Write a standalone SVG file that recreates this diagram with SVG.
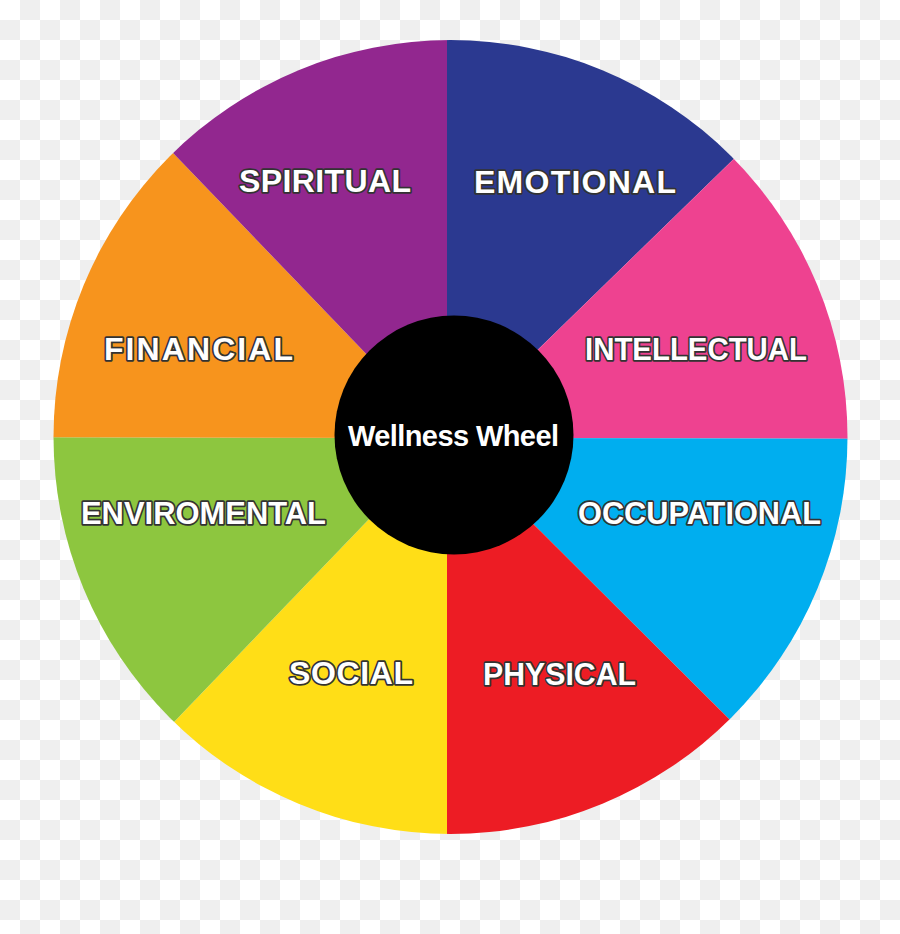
<svg xmlns="http://www.w3.org/2000/svg" width="900" height="934" viewBox="0 0 900 934">
  <defs>
    <pattern id="checker" x="0" y="0" width="40" height="40" patternUnits="userSpaceOnUse">
      <rect x="0" y="0" width="40" height="40" fill="#ffffff"/>
      <rect x="20" y="0" width="20" height="20" fill="#efefef"/>
      <rect x="0" y="20" width="20" height="20" fill="#efefef"/>
    </pattern>
    <clipPath id="wheelClip">
      <circle cx="450.5" cy="437" r="397"/>
    </clipPath>
    <style>
      .lbl { font-family: "Liberation Sans", Arial, sans-serif; font-weight: bold; font-size: 32px; fill: #ffffff; stroke: #333333; stroke-width: 3.5; stroke-linejoin: round; paint-order: stroke fill; text-anchor: middle; }
      .hub-text { font-family: "Liberation Sans", Arial, sans-serif; font-weight: bold; font-size: 29px; fill: #ffffff; text-anchor: middle; }
    </style>
  </defs>

  <rect id="background" x="0" y="0" width="900" height="934" fill="url(#checker)"/>

  <g id="wheel" clip-path="url(#wheelClip)">
    <g id="emotional"><polygon points="447,438 447,-100 1000,-100" fill="#2b3990"/></g>
    <g id="intellectual"><polygon points="447,438 1000,-100 1000,439" fill="#ee4290"/></g>
    <g id="occupational"><polygon points="447,438 1000,439 1000,989" fill="#00aeef"/></g>
    <g id="physical"><polygon points="447,438 1000,989 1000,1000 447,1000" fill="#ed1c24"/></g>
    <g id="social"><polygon points="447,438 447,1000 -99,1006" fill="#ffde17"/></g>
    <g id="enviromental"><polygon points="447,438 -99,1006 -100,437" fill="#8dc63f"/></g>
    <g id="financial"><polygon points="447,438 -100,437 -99,-130" fill="#f7941d"/></g>
    <g id="spiritual"><polygon points="447,438 -99,-130 -100,-100 447,-100" fill="#92278f"/></g>
  </g>

  <g id="labels">
    <text class="lbl" x="325" y="192" textLength="172">SPIRITUAL</text>
    <text class="lbl" x="575" y="193" textLength="202">EMOTIONAL</text>
    <text class="lbl" x="198.5" y="360" textLength="189">FINANCIAL</text>
    <text class="lbl" x="696" y="360" textLength="222" lengthAdjust="spacingAndGlyphs">INTELLECTUAL</text>
    <text class="lbl" x="203.5" y="524" textLength="245" lengthAdjust="spacingAndGlyphs">ENVIROMENTAL</text>
    <text class="lbl" x="699.5" y="524" textLength="243" lengthAdjust="spacingAndGlyphs">OCCUPATIONAL</text>
    <text class="lbl" x="351" y="684" textLength="124">SOCIAL</text>
    <text class="lbl" x="559.5" y="685" textLength="153" lengthAdjust="spacingAndGlyphs">PHYSICAL</text>
  </g>

  <g id="hub">
    <circle cx="454" cy="435" r="119.5" fill="#000000"/>
    <text class="hub-text" x="453.5" y="446" textLength="211">Wellness Wheel</text>
  </g>
</svg>
